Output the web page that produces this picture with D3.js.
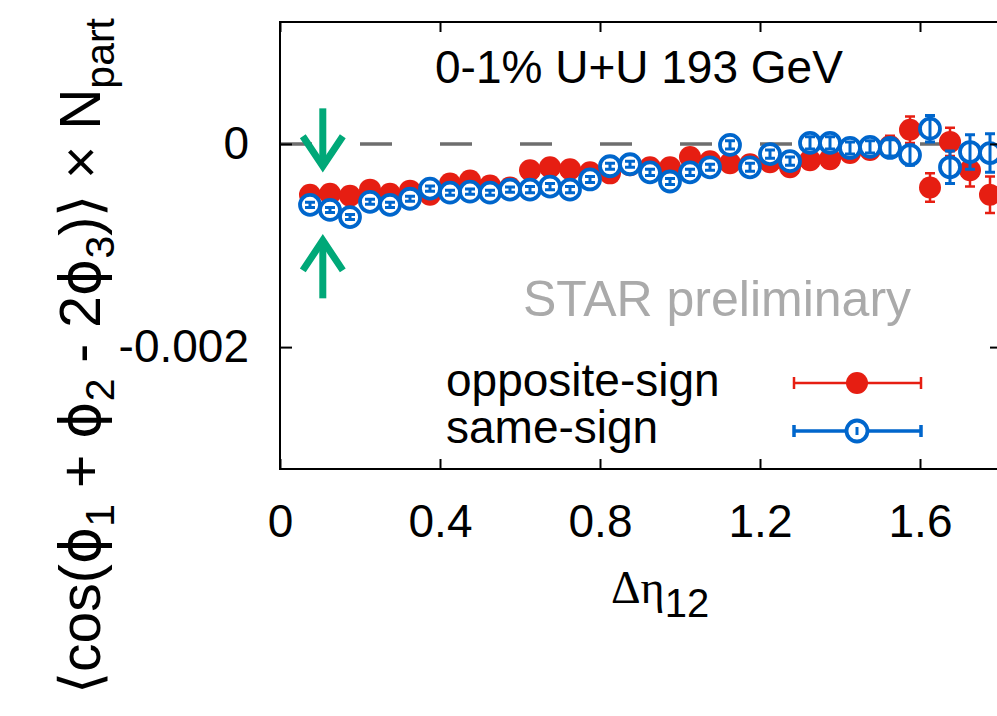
<!DOCTYPE html>
<html>
<head>
<meta charset="utf-8">
<script src="https://cdn.jsdelivr.net/npm/d3@7"></script>
<style>
  body { margin: 0; background: #fff; }
  svg text { font-family: "Liberation Sans", Arial, Helvetica, sans-serif; }
</style>
</head>
<body>
<svg id="chart" width="997" height="716"></svg>
<script>
// Bin centres in Δη12
const deltaEta = [0.075, 0.125, 0.175, 0.225, 0.275, 0.325, 0.375, 0.425, 0.475, 0.525,
                  0.575, 0.625, 0.675, 0.725, 0.775, 0.825, 0.875, 0.925, 0.975, 1.025,
                  1.075, 1.125, 1.175, 1.225, 1.275, 1.325, 1.375, 1.425, 1.475, 1.525,
                  1.575, 1.625, 1.675, 1.725, 1.775];

// <cos(phi1 + phi2 - 2 phi3)> x Npart, opposite-sign pairs
const oppositeSign = [-0.00050, -0.00049, -0.00051, -0.00045, -0.00049, -0.00046, -0.00050, -0.00039, -0.00036, -0.00041,
                      -0.00043, -0.00026, -0.00023, -0.00025, -0.00028, -0.00029, -0.00021, -0.00023, -0.00023, -0.00013,
                      -0.00017, -0.00019, -0.00020, -0.00018, -0.00023, -0.00016, -0.00015, -0.00009, -0.00006, -0.00002,
                       0.00014, -0.00043,  0.00002, -0.00026, -0.00050];
const oppositeSignErr = [0.00002, 0.00002, 0.00002, 0.00002, 0.00002, 0.00002, 0.00002, 0.00002, 0.00002, 0.00002,
                         0.00002, 0.000025, 0.000025, 0.000025, 0.000025, 0.000025, 0.00003, 0.00003, 0.00003, 0.00003,
                         0.00003, 0.00004, 0.00004, 0.00004, 0.00004, 0.00005, 0.00005, 0.00006, 0.00008, 0.00010,
                         0.00013, 0.00014, 0.00014, 0.00016, 0.00018];

// same-sign pairs
const sameSign = [-0.00060, -0.00065, -0.00072, -0.00057, -0.00060, -0.00054, -0.00044, -0.00048, -0.00047, -0.00048,
                  -0.00045, -0.00045, -0.00042, -0.00045, -0.00035, -0.00022, -0.00020, -0.00028, -0.00037, -0.00028,
                  -0.00023, -0.00001, -0.00023, -0.00010, -0.00017,  0.00001,  0.00001, -0.00004, -0.00003, -0.00004,
                  -0.00011,  0.00015, -0.00023, -0.00008, -0.00009];
const sameSignErr = [0.000025, 0.000025, 0.000025, 0.000025, 0.000025, 0.000025, 0.000025, 0.000025, 0.000025, 0.000025,
                     0.000025, 0.00003, 0.00003, 0.00003, 0.00003, 0.00003, 0.00003, 0.00003, 0.00003, 0.00003,
                     0.00003, 0.00004, 0.00004, 0.00004, 0.00004, 0.00006, 0.00006, 0.00006, 0.00006, 0.00008,
                     0.00010, 0.00013, 0.00016, 0.00017, 0.00019];

const xTicks = [0, 0.4, 0.8, 1.2, 1.6];
const xTickLabels = ["0", "0.4", "0.8", "1.2", "1.6"];
const yTicks = [-0.002, 0];
const yTickLabels = ["-0.002", "0"];

const seriesNames = ["opposite-sign", "same-sign"];
const titleText = "0-1% U+U 193 GeV";
const watermarkText = "STAR preliminary";

// Δη12 position marked by the pair of arrows
const markerEta = 0.107;

const RED = "#e61e12";
const BLUE = "#0066cc";
const GREEN = "#00a878";

const svg = d3.select("#chart");
const x = d3.scaleLinear().domain([0, 1.8]).range([280, 1000]);
const y = d3.scaleLinear().domain([-0.0032, 0.0012]).range([469, 22]);

svg.append("defs").append("clipPath").attr("id", "plotClip")
  .append("rect").attr("x", x(0)).attr("y", y(0.0012))
  .attr("width", x(1.8) - x(0)).attr("height", y(-0.0032) - y(0.0012));

const plot = svg.append("g").attr("clip-path", "url(#plotClip)");

// zero reference line
plot.append("line")
  .attr("x1", x(0)).attr("x2", x(1.8)).attr("y1", y(0)).attr("y2", y(0))
  .attr("stroke", "#6e6e6e").attr("stroke-width", 3.5)
  .attr("stroke-dasharray", "32,48");

// arrows pointing at the first bins
function arrow(x0, yFrom, yTo) {
  const g = plot.append("g").attr("stroke", GREEN).attr("stroke-width", 7).attr("fill", "none");
  const px = x(x0), p1 = y(yFrom), p2 = y(yTo);
  const dir = Math.sign(p2 - p1);
  g.append("line").attr("x1", px).attr("x2", px).attr("y1", p1).attr("y2", p2 - dir * 3);
  g.append("path")
    .attr("stroke-linejoin", "miter")
    .attr("d", `M${px - 20},${p2 - dir * 30}L${px},${p2}L${px + 20},${p2 - dir * 30}`);
}
arrow(markerEta, 0.00035, -0.00022);
arrow(markerEta, -0.00152, -0.00095);

// error bars
function errorBars(vals, errs, color, width) {
  const g = plot.append("g").attr("stroke", color).attr("stroke-width", width).attr("fill", "none");
  g.selectAll("path").data(deltaEta).join("path")
    .attr("d", (d, i) => {
      const cx = x(d), y1 = y(vals[i] + errs[i]), y2 = y(vals[i] - errs[i]);
      return `M${cx},${y1}L${cx},${y2}M${cx - 5},${y1}L${cx + 5},${y1}M${cx - 5},${y2}L${cx + 5},${y2}`;
    });
}

errorBars(oppositeSign, oppositeSignErr, RED, 2.5);
plot.append("g").selectAll("circle").data(deltaEta).join("circle")
  .attr("cx", d => x(d)).attr("cy", (d, i) => y(oppositeSign[i]))
  .attr("r", 11).attr("fill", RED);

const blueG = plot.append("g");
blueG.selectAll("circle").data(deltaEta).join("circle")
  .attr("cx", d => x(d)).attr("cy", (d, i) => y(sameSign[i]))
  .attr("r", 10).attr("fill", "#fff").attr("stroke", BLUE).attr("stroke-width", 3.8);
errorBars(sameSign, sameSignErr, BLUE, 3);

// axes: ticks point inward on all four sides
const fs = 46;
const bottomAxis = d3.axisBottom(x).tickValues(xTicks).tickSize(-10).tickPadding(35)
  .tickFormat((d, i) => xTickLabels[i]);
const gb = svg.append("g").attr("transform", `translate(0,${y(-0.0032)})`).call(bottomAxis);
const topAxis = d3.axisTop(x).tickValues(xTicks).tickSize(-10).tickFormat("");
const gt = svg.append("g").attr("transform", `translate(0,${y(0.0012)})`).call(topAxis);
const leftAxis = d3.axisLeft(y).tickValues(yTicks).tickSize(-12).tickPadding(31)
  .tickFormat((d, i) => yTickLabels[i]);
const gl = svg.append("g").attr("transform", `translate(${x(0)},0)`).call(leftAxis);
const rightAxis = d3.axisRight(y).tickValues(yTicks).tickSize(-10).tickFormat("");
const gr = svg.append("g").attr("transform", `translate(${x(1.8)},0)`).call(rightAxis);

[gb, gt, gl, gr].forEach(g => {
  g.select(".domain").remove();
  g.selectAll(".tick line").attr("stroke", "#000").attr("stroke-width", 2);
  g.selectAll(".tick text").attr("font-size", fs).attr("fill", "#000")
    .attr("font-family", "Liberation Sans, Arial, sans-serif");
});

// frame
svg.append("rect")
  .attr("x", x(0)).attr("y", y(0.0012))
  .attr("width", x(1.8) - x(0)).attr("height", y(-0.0032) - y(0.0012))
  .attr("fill", "none").attr("stroke", "#000").attr("stroke-width", 2);

// title and watermark
svg.append("text").attr("x", 435).attr("y", 83).attr("font-size", 46).attr("fill", "#000")
  .text(titleText);
svg.append("text").attr("x", 523).attr("y", 316).attr("font-size", 50).attr("fill", "#aaaaaa")
  .text(watermarkText);

// legend
const legendRows = [
  { name: seriesNames[0], color: RED, filled: true, ty: 396, ly: 383, lw: 2.5 },
  { name: seriesNames[1], color: BLUE, filled: false, ty: 443, ly: 431, lw: 3.5 }
];
const lg = svg.append("g");
legendRows.forEach(r => {
  lg.append("text").attr("x", 446).attr("y", r.ty).attr("font-size", 46).attr("fill", "#000").text(r.name);
  const g = lg.append("g").attr("stroke", r.color).attr("stroke-width", r.lw).attr("fill", "none");
  g.append("path").attr("d", `M793,${r.ly}L922,${r.ly}M794,${r.ly - 6}L794,${r.ly + 6}M921,${r.ly - 6}L921,${r.ly + 6}`);
  if (r.filled) {
    lg.append("circle").attr("cx", 857).attr("cy", r.ly).attr("r", 11).attr("fill", r.color);
  } else {
    lg.append("circle").attr("cx", 857).attr("cy", r.ly).attr("r", 10.5)
      .attr("fill", "#fff").attr("stroke", r.color).attr("stroke-width", 3.8);
    lg.append("line").attr("x1", 857).attr("x2", 857).attr("y1", r.ly - 4).attr("y2", r.ly + 4)
      .attr("stroke", r.color).attr("stroke-width", 3);
  }
});

// x-axis title: Δη with subscript 12
const xt = svg.append("text").attr("x", 611).attr("y", 603).attr("fill", "#000");
xt.append("tspan").attr("font-family", "Liberation Serif, Times New Roman, serif").attr("font-size", 46).text("Δη");
xt.append("tspan").attr("font-size", 40).attr("dy", 14).text("12");

// y-axis title
const yt = svg.append("text")
  .attr("transform", "translate(100,356) rotate(-90)")
  .attr("text-anchor", "middle").attr("fill", "#000").attr("font-size", 57);
const phiFont = "DejaVu Sans, Liberation Sans, sans-serif";
const parts = [
  ["⟨cos(", 0, false], ["ϕ", 0, "phi"], ["1", 1, false], [" + ", -1, false], ["ϕ", 0, "phi"], ["2", 1, false],
  [" - 2", -1, false], ["ϕ", 0, "phi"], ["3", 1, false], [")⟩ × N", -1, false], ["part", 1, false]
];
parts.forEach(([t, sub, phi]) => {
  const s = yt.append("tspan").text(t);
  if (phi) s.attr("font-family", phiFont);
  if (sub === 1) s.attr("font-size", 41).attr("dy", 14);
  if (sub === -1) s.attr("dy", -14);
});
</script>
</body>
</html>
